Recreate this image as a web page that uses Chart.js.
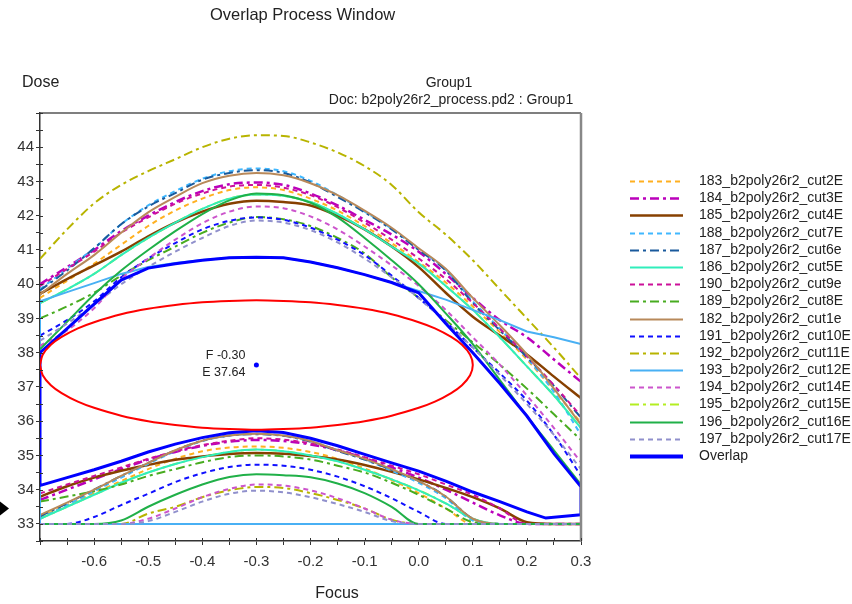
<!DOCTYPE html>
<html>
<head>
<meta charset="utf-8">
<title>Overlap Process Window</title>
<script src="https://cdn.jsdelivr.net/npm/chart.js@4.4.0/dist/chart.umd.min.js"></script>
<style>
html, body { margin: 0; padding: 0; background: #fff; }
</style>
</head>
<body>
<canvas id="cht-window" width="852" height="604"></canvas>
<script>
// focus grid shared by every cut
var focus = [-0.7, -0.65, -0.6, -0.55, -0.5, -0.45, -0.4, -0.35, -0.3, -0.25, -0.2, -0.15, -0.1, -0.05, 0, 0.05, 0.1, 0.15, 0.2, 0.25, 0.3];

// upper / lower dose limits for each cut (33 = bottom of data range)
var up183 = [39.6, 40.1, 40.6, 41.15, 41.7, 42.15, 42.5, 42.75, 42.83, 42.75, 42.5, 42.15, 41.7, 41.2, 40.65, 40.05, 39.35, 38.6, 37.8, 36.9, 35.95];
var lo183 = [33.2, 33.55, 33.9, 34.25, 34.6, 34.9, 35.12, 35.23, 35.26, 35.22, 35.1, 34.9, 34.62, 34.28, 33.9, 33.45, 33.0, 33, 33, 33, 33];
var up184 = [40.0, 40.5, 41.0, 41.55, 42.0, 42.4, 42.72, 42.92, 42.97, 42.9, 42.65, 42.3, 41.88, 41.45, 40.95, 40.3, 39.6, 38.95, 38.45, 37.8, 37.15];
var lo184 = [33.7, 34.0, 34.3, 34.6, 34.88, 35.1, 35.28, 35.4, 35.45, 35.42, 35.32, 35.15, 34.92, 34.65, 34.35, 34.0, 33.62, 33.25, 33.0, 33, 33];
var up185 = [39.72, 40.15, 40.55, 40.95, 41.4, 41.8, 42.12, 42.35, 42.44, 42.4, 42.3, 42.0, 41.6, 41.1, 40.5, 39.75, 39.05, 38.5, 37.95, 37.3, 36.67];
var lo185 = [33.79, 34.1, 34.35, 34.55, 34.72, 34.87, 34.97, 35.04, 35.07, 35.05, 34.98, 34.88, 34.72, 34.52, 34.3, 34.05, 33.78, 33.45, 33.05, 33, 33];
var up188 = [39.85, 40.45, 41.05, 41.75, 42.3, 42.72, 43.08, 43.3, 43.38, 43.3, 43.02, 42.6, 42.12, 41.62, 41.02, 40.42, 39.5, 38.7, 37.85, 36.85, 35.6];
var lo188 = [33.15, 33.55, 33.95, 34.35, 34.75, 35.12, 35.42, 35.58, 35.63, 35.58, 35.42, 35.15, 34.88, 34.55, 34.2, 33.75, 33.1, 33, 33, 33, 33];
var up187 = [39.82, 40.4, 41.05, 41.75, 42.27, 42.66, 43.05, 43.25, 43.33, 43.25, 42.97, 42.55, 42.1, 41.6, 41.0, 40.4, 39.45, 38.65, 37.87, 37.03, 36.1];
var lo187 = [33.22, 33.6, 34.0, 34.4, 34.78, 35.15, 35.43, 35.58, 35.62, 35.57, 35.4, 35.13, 34.88, 34.58, 34.25, 33.8, 33.15, 33, 33, 33, 33];
var up186 = [39.45, 39.85, 40.3, 40.85, 41.35, 41.8, 42.2, 42.5, 42.62, 42.58, 42.4, 42.05, 41.6, 41.1, 40.6, 39.95, 39.25, 38.45, 37.6, 36.75, 35.8];
var lo186 = [33.15, 33.5, 33.85, 34.2, 34.5, 34.75, 34.95, 35.1, 35.17, 35.12, 35.0, 34.83, 34.58, 34.3, 33.98, 33.6, 33.15, 33, 33, 33, 33];
var up190 = [39.95, 40.45, 40.95, 41.5, 41.95, 42.35, 42.65, 42.85, 42.9, 42.82, 42.6, 42.25, 41.8, 41.3, 40.75, 40.15, 39.45, 38.7, 37.9, 37.05, 36.15];
var lo190 = [33.89, 34.15, 34.4, 34.65, 34.9, 35.12, 35.3, 35.43, 35.5, 35.46, 35.35, 35.17, 34.95, 34.7, 34.45, 34.15, 33.85, 33.45, 33.0, 33, 33];
var up189 = [39.0, 39.35, 39.75, 40.25, 40.7, 41.1, 41.5, 41.8, 41.96, 41.9, 41.7, 41.35, 40.9, 40.2, 39.6, 38.95, 38.3, 37.65, 36.95, 36.2, 35.45];
var lo189 = [33.65, 33.8, 33.95, 34.15, 34.4, 34.6, 34.8, 34.95, 35.0, 34.97, 34.88, 34.7, 34.5, 34.2, 33.85, 33.45, 33.05, 33, 33, 33, 33];
var up182 = [39.7, 40.3, 40.85, 41.5, 42.1, 42.55, 42.95, 43.17, 43.25, 43.18, 42.95, 42.6, 42.15, 41.65, 41.05, 40.45, 39.6, 38.8, 37.95, 36.95, 35.9];
var lo182 = [33.26, 33.62, 34.0, 34.4, 34.78, 35.15, 35.43, 35.58, 35.63, 35.58, 35.42, 35.15, 34.9, 34.6, 34.25, 33.8, 33.15, 33, 33, 33, 33];
var up191 = [38.5, 38.95, 39.5, 40.2, 40.75, 41.2, 41.6, 41.85, 41.95, 41.88, 41.65, 41.3, 40.85, 40.25, 39.6, 38.9, 38.15, 37.4, 36.6, 35.6, 34.4];
var lo191 = [33, 33, 33.2, 33.55, 33.88, 34.22, 34.48, 34.66, 34.73, 34.7, 34.58, 34.38, 34.1, 33.75, 33.35, 33.0, 33, 33, 33, 33, 33];
var up192 = [40.74, 41.6, 42.36, 42.9, 43.3, 43.65, 44.0, 44.25, 44.35, 44.33, 44.14, 43.85, 43.45, 42.9, 42.1, 41.45, 40.7, 39.85, 39.0, 38.15, 37.25];
var lo192 = [33, 33, 33, 33, 33.3, 33.5, 33.78, 33.98, 34.08, 34.05, 33.9, 33.7, 33.45, 33.12, 33, 33, 33, 33, 33, 33, 33];
var up193 = [39.5, 39.77, 40.03, 40.3, 40.5, 40.62, 40.71, 40.77, 40.79, 40.77, 40.65, 40.48, 40.28, 40.05, 39.8, 39.55, 39.25, 38.95, 38.62, 38.45, 38.25];
var lo193 = [33, 33, 33, 33, 33, 33, 33, 33, 33, 33, 33, 33, 33, 33, 33, 33, 33, 33, 33, 33, 33];
var up194 = [38.2, 38.65, 39.3, 40.15, 40.75, 41.3, 41.78, 42.12, 42.27, 42.22, 41.98, 41.6, 41.1, 40.55, 39.95, 39.25, 38.45, 37.65, 36.75, 35.8, 34.8];
var lo194 = [33, 33, 33, 33, 33.15, 33.45, 33.78, 34.02, 34.15, 34.12, 33.98, 33.75, 33.45, 33.12, 33, 33, 33, 33, 33, 33, 33];
// cut15E cannot be seen in the plot: it lies under the cut5E line
var up195 = [39.45, 39.85, 40.3, 40.85, 41.35, 41.8, 42.2, 42.5, 42.62, 42.58, 42.4, 42.05, 41.6, 41.1, 40.6, 39.95, 39.25, 38.45, 37.6, 36.75, 35.8];
var lo195 = [33.15, 33.5, 33.85, 34.2, 34.5, 34.75, 34.95, 35.1, 35.17, 35.12, 35.0, 34.83, 34.58, 34.3, 33.98, 33.6, 33.15, 33, 33, 33, 33];
var up196 = [38.1, 38.9, 39.7, 40.4, 41.0, 41.55, 42.05, 42.45, 42.65, 42.6, 42.38, 41.95, 41.35, 40.7, 40.0, 39.15, 38.25, 37.2, 36.15, 35.15, 34.15];
var lo196 = [33, 33, 33, 33.1, 33.5, 33.85, 34.15, 34.37, 34.45, 34.42, 34.36, 34.18, 33.9, 33.5, 33.0, 33, 33, 33, 33, 33, 33];
var up197 = [38.35, 38.85, 39.4, 40.0, 40.5, 40.95, 41.35, 41.7, 41.86, 41.8, 41.58, 41.22, 40.75, 40.2, 39.6, 38.9, 38.15, 37.35, 36.5, 35.6, 34.6];
var lo197 = [33, 33, 33, 33, 33.08, 33.35, 33.65, 33.88, 33.97, 33.92, 33.78, 33.58, 33.35, 33.08, 33, 33, 33, 33, 33, 33, 33];

// overlap window: top edge on the focus grid, bottom edge walked back right to left
var overlapTop = [38.0, 38.7, 39.42, 40.12, 40.47, 40.6, 40.7, 40.77, 40.79, 40.77, 40.65, 40.48, 40.28, 40.05, 39.75, 38.85, 38.0, 37.1, 36.15, 35.05, 34.08];
var overlapBottomFocus = [0.3, 0.235, 0.2, 0.15, 0.1, 0.05, 0, -0.05, -0.1, -0.15, -0.2, -0.25, -0.3, -0.35, -0.4, -0.45, -0.5, -0.55, -0.6, -0.65, -0.7];
var overlapBottomDose = [33.27, 33.17, 33.35, 33.65, 33.93, 34.25, 34.54, 34.78, 35.03, 35.28, 35.5, 35.67, 35.72, 35.66, 35.52, 35.33, 35.1, 34.83, 34.58, 34.35, 34.12];

// largest ellipse inside the window
var ellipseFocus = [-0.7, -0.695, -0.68, -0.66, -0.63, -0.6, -0.55, -0.5, -0.45, -0.4, -0.35, -0.3, -0.25, -0.2, -0.15, -0.1, -0.05, 0, 0.03, 0.06, 0.08, 0.095, 0.1,
    0.095, 0.08, 0.06, 0.03, 0, -0.05, -0.1, -0.15, -0.2, -0.25, -0.3, -0.35, -0.4, -0.45, -0.5, -0.55, -0.6, -0.63, -0.66, -0.68, -0.695, -0.7];
var ellipseDose = [37.64, 37.94, 38.23, 38.46, 38.71, 38.89, 39.12, 39.28, 39.39, 39.47, 39.51, 39.53, 39.51, 39.47, 39.39, 39.28, 39.12, 38.89, 38.71, 38.46, 38.23, 37.94, 37.64,
    37.34, 37.05, 36.82, 36.57, 36.39, 36.16, 36.0, 35.89, 35.81, 35.77, 35.75, 35.77, 35.81, 35.89, 36.0, 36.16, 36.39, 36.57, 36.82, 37.05, 37.34, 37.64];
var centreFocus = -0.30;
var centreDose = 37.64;

var seriesNames = ['183_b2poly26r2_cut2E', '184_b2poly26r2_cut3E', '185_b2poly26r2_cut4E', '188_b2poly26r2_cut7E',
    '187_b2poly26r2_cut6e', '186_b2poly26r2_cut5E', '190_b2poly26r2_cut9e', '189_b2poly26r2_cut8E',
    '182_b2poly26r2_cut1e', '191_b2poly26r2_cut10E', '192_b2poly26r2_cut11E', '193_b2poly26r2_cut12E',
    '194_b2poly26r2_cut14E', '195_b2poly26r2_cut15E', '196_b2poly26r2_cut16E', '197_b2poly26r2_cut17E'];
var uppers = [up183, up184, up185, up188, up187, up186, up190, up189, up182, up191, up192, up193, up194, up195, up196, up197];
var lowers = [lo183, lo184, lo185, lo188, lo187, lo186, lo190, lo189, lo182, lo191, lo192, lo193, lo194, lo195, lo196, lo197];

var dotted = [5, 4];
var dashdot = [9, 4, 3, 4];
var looks = {
    '183_b2poly26r2_cut2E': { line: '#ffb020', dash: dotted, width: 2 },
    '184_b2poly26r2_cut3E': { line: '#bb00bb', dash: dashdot, width: 2.5 },
    '185_b2poly26r2_cut4E': { line: '#874000', dash: [], width: 2.5 },
    '188_b2poly26r2_cut7E': { line: '#40b8ff', dash: dotted, width: 2 },
    '187_b2poly26r2_cut6e': { line: '#1a5a9c', dash: dashdot, width: 2 },
    '186_b2poly26r2_cut5E': { line: '#30eebb', dash: [], width: 2 },
    '190_b2poly26r2_cut9e': { line: '#cc1199', dash: dotted, width: 2 },
    '189_b2poly26r2_cut8E': { line: '#48ac20', dash: dashdot, width: 2 },
    '182_b2poly26r2_cut1e': { line: '#b8895a', dash: [], width: 2 },
    '191_b2poly26r2_cut10E': { line: '#1010ff', dash: dotted, width: 2 },
    '192_b2poly26r2_cut11E': { line: '#b8b400', dash: dashdot, width: 2 },
    '193_b2poly26r2_cut12E': { line: '#48b0f4', dash: [], width: 2 },
    '194_b2poly26r2_cut14E': { line: '#cc55cc', dash: dotted, width: 2 },
    '195_b2poly26r2_cut15E': { line: '#b4ee22', dash: dashdot, width: 2 },
    '196_b2poly26r2_cut16E': { line: '#20b048', dash: [], width: 2 },
    '197_b2poly26r2_cut17E': { line: '#9090cc', dash: dotted, width: 2 }
};

var fontFamily = '"Liberation Sans", Arial, Helvetica, sans-serif';
Chart.defaults.font.family = fontFamily;

function pointsOf(xs, ys) {
    return xs.map(function (x, i) { return { x: x, y: ys[i] }; });
}

var datasets = [];
seriesNames.forEach(function (name, i) {
    var look = looks[name];
    var pts, closed = name.indexOf('cut12E') > 0;
    if (closed) {
        // this cut runs along the edges of the data range
        pts = [{ x: focus[0], y: lowers[i][0] }]
            .concat(pointsOf(focus, uppers[i]))
            .concat([{ x: focus[focus.length - 1], y: lowers[i][focus.length - 1] }])
            .concat(pointsOf(focus.slice().reverse(), lowers[i].slice().reverse()));
    } else {
        pts = pointsOf(focus, uppers[i])
            .concat([{ x: focus[focus.length - 1], y: null }])
            .concat(pointsOf(focus, lowers[i]));
    }
    datasets.push({
        label: name, data: pts, inLegend: true,
        borderColor: look.line, backgroundColor: look.line, borderWidth: look.width, borderDash: look.dash,
        showLine: true, pointRadius: 0, fill: false,
        tension: closed ? 0 : 0.4, cubicInterpolationMode: closed ? 'default' : 'monotone',
        order: name.indexOf('cut15E') > 0 ? 5 : -i
    });
});

datasets.push({
    label: 'Overlap', inLegend: true,
    data: pointsOf(focus, overlapTop).concat(pointsOf(overlapBottomFocus, overlapBottomDose)).concat([{ x: focus[0], y: overlapTop[0] }]),
    borderColor: '#0000ff', backgroundColor: '#0000ff', borderWidth: 3, borderDash: [],
    showLine: true, pointRadius: 0, tension: 0, order: -16
});
datasets.push({
    label: 'ellipse', inLegend: false,
    data: pointsOf(ellipseFocus, ellipseDose),
    borderColor: '#ff0000', borderWidth: 2, showLine: true, pointRadius: 0, tension: 0.3, order: -17
});
datasets.push({
    label: 'centre', inLegend: false,
    data: [{ x: centreFocus, y: centreDose }],
    showLine: false, pointRadius: 2.5, pointBorderWidth: 0, pointBackgroundColor: '#0000ff', order: -18
});

var decorations = {
    id: 'decorations',
    afterDraw: function (chart) {
        var ctx = chart.ctx, a = chart.chartArea;
        var xs = chart.scales.x, ys = chart.scales.y;
        ctx.save();

        // frame top and right
        ctx.strokeStyle = '#555'; ctx.lineWidth = 1.5;
        ctx.beginPath(); ctx.moveTo(a.left, a.top); ctx.lineTo(a.right, a.top); ctx.stroke();
        ctx.strokeStyle = '#888'; ctx.lineWidth = 2.5;
        ctx.beginPath(); ctx.moveTo(a.right, a.top); ctx.lineTo(a.right, a.bottom); ctx.stroke();

        // inner half of the tick marks
        ctx.strokeStyle = '#333'; ctx.lineWidth = 1;
        ys.ticks.forEach(function (t) {
            var py = Math.round(ys.getPixelForValue(t.value)) + 0.5;
            ctx.beginPath(); ctx.moveTo(a.left, py); ctx.lineTo(a.left + 3, py); ctx.stroke();
        });
        xs.ticks.forEach(function (t) {
            var px = Math.round(xs.getPixelForValue(t.value)) + 0.5;
            ctx.beginPath(); ctx.moveTo(px, a.bottom); ctx.lineTo(px, a.bottom - 3); ctx.stroke();
        });

        // texts
        ctx.fillStyle = '#222';
        ctx.textBaseline = 'middle';
        ctx.textAlign = 'left';
        ctx.font = '16.5px ' + fontFamily;
        ctx.fillText('Overlap Process Window', 210, 15);
        ctx.font = '16px ' + fontFamily;
        ctx.fillText('Dose', 22, 83);
        ctx.textAlign = 'center';
        ctx.fillText('Focus', 337, 594);
        ctx.font = '14px ' + fontFamily;
        ctx.fillText('Group1', 449, 83);
        ctx.fillText('Doc: b2poly26r2_process.pd2 : Group1', 451, 100);

        // centre label
        var cx = xs.getPixelForValue(centreFocus), cy = ys.getPixelForValue(centreDose);
        ctx.textAlign = 'right';
        ctx.font = '12.5px ' + fontFamily;
        ctx.fillText('F ' + centreFocus.toFixed(2), cx - 11, cy - 9);
        ctx.fillText('E ' + centreDose.toFixed(2), cx - 11, cy + 8);

        // marker on the left edge
        var my = ys.getPixelForValue(33.45);
        ctx.fillStyle = '#000';
        ctx.beginPath(); ctx.moveTo(0, my - 7); ctx.lineTo(9, my); ctx.lineTo(0, my + 7); ctx.closePath(); ctx.fill();

        // legend
        ctx.textAlign = 'left';
        ctx.font = '14px ' + fontFamily;
        var row = 0;
        chart.data.datasets.forEach(function (ds) {
            if (!ds.inLegend) return;
            var y = Math.round(181 + row * 17.19) + 0.5;
            ctx.strokeStyle = ds.borderColor;
            ctx.lineWidth = ds.label === 'Overlap' ? 4 : ds.borderWidth;
            ctx.setLineDash(ds.borderDash || []);
            ctx.beginPath(); ctx.moveTo(630, y); ctx.lineTo(683, y); ctx.stroke();
            ctx.setLineDash([]);
            ctx.fillStyle = '#222';
            ctx.fillText(ds.label, 699, y);
            row++;
        });
        ctx.restore();
    }
};

var chW = document.getElementById('cht-window');
var chtWindow = new Chart(chW, {
    type: 'scatter',
    data: { datasets: datasets },
    options: {
        responsive: false,
        animation: false,
        events: [],
        layout: { padding: { top: 113, right: 271, left: 0, bottom: 0 } },
        plugins: { legend: { display: false }, tooltip: { enabled: false } },
        scales: {
            x: {
                type: 'linear', min: -0.7, max: 0.3,
                afterFit: function (s) { s.height = 63; },
                border: { display: true, color: '#333', width: 1.5 },
                grid: { drawOnChartArea: false, drawTicks: true, tickLength: 4, color: '#333' },
                ticks: {
                    stepSize: 0.05, autoSkip: false, maxRotation: 0, padding: 8,
                    color: '#333', font: { size: 15 },
                    callback: function (v) {
                        var r = Math.round(v * 10);
                        if (Math.abs(v * 10 - r) > 1e-6 || r === -7) return '';
                        return (r / 10).toFixed(1);
                    }
                }
            },
            y: {
                type: 'linear', min: 32.5, max: 45,
                afterFit: function (s) { s.width = 40; },
                border: { display: true, color: '#333', width: 1.5 },
                grid: { drawOnChartArea: false, drawTicks: true, tickLength: 4, color: '#333' },
                ticks: {
                    stepSize: 0.5, autoSkip: false, padding: 2,
                    color: '#333', font: { size: 15 },
                    callback: function (v) {
                        if (Math.abs(v - Math.round(v)) > 1e-6 || v >= 45) return '';
                        return String(Math.round(v));
                    }
                }
            }
        }
    },
    plugins: [decorations]
});
</script>
</body>
</html>
